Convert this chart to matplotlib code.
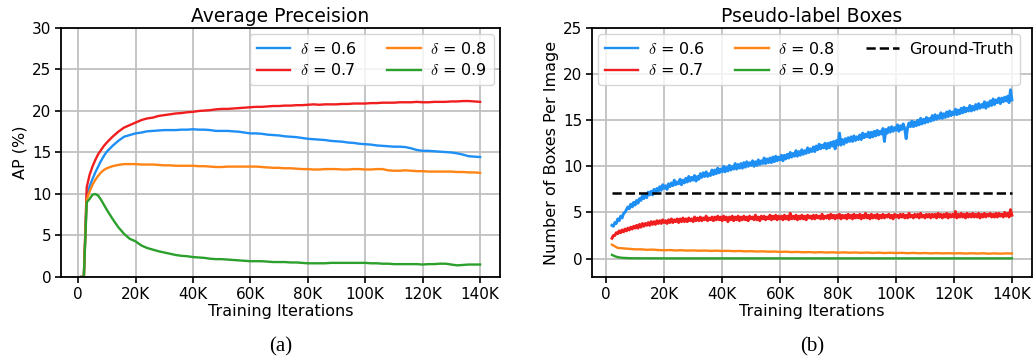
import matplotlib
matplotlib.use("Agg")
import matplotlib.pyplot as plt

plt.rcParams['font.family'] = ['DejaVu Sans']
plt.rcParams['mathtext.fontset'] = 'cm'

# ---------------- (a) Average Precision ----------------
iters_a = [1, 2, 3, 4, 5, 6, 7, 8, 9, 10, 12, 14, 16, 18, 20, 22, 24, 26, 28, 30,
           32, 34, 36, 38, 40, 42, 44, 46, 48, 50, 52, 54, 56, 58, 60, 62, 64, 66, 68, 70,
           72, 74, 76, 78, 80, 82, 84, 86, 88, 90, 92, 94, 96, 98, 100, 102, 104, 106, 108, 110,
           112, 114, 116, 118, 120, 122, 124, 126, 128, 130, 132, 134, 136, 138, 140]  # thousands

ap_06 = [0, 0, 9.7, 10.9, 11.8, 12.6, 13.3, 14.0, 14.6, 15.1, 15.8, 16.4, 16.9, 17.1, 17.3, 17.4, 17.55, 17.6, 17.65, 17.7,
         17.7, 17.7, 17.75, 17.75, 17.8, 17.75, 17.75, 17.7, 17.6, 17.6, 17.6, 17.55, 17.5, 17.4, 17.3, 17.3, 17.25, 17.15, 17.1, 17.05,
         16.95, 16.9, 16.85, 16.75, 16.65, 16.6, 16.55, 16.5, 16.4, 16.35, 16.3, 16.2, 16.15, 16.05, 16.0, 15.95, 15.85, 15.8, 15.75, 15.7,
         15.7, 15.65, 15.5, 15.3, 15.2, 15.2, 15.15, 15.1, 15.05, 15.0, 14.9, 14.75, 14.55, 14.5, 14.45]
ap_07 = [0, 0, 10.8, 12.3, 13.3, 14.1, 14.8, 15.3, 15.8, 16.2, 16.9, 17.5, 18.0, 18.3, 18.6, 18.9, 19.1, 19.2, 19.4, 19.5,
         19.6, 19.7, 19.75, 19.85, 19.9, 20.0, 20.05, 20.1, 20.2, 20.25, 20.25, 20.3, 20.35, 20.4, 20.45, 20.5, 20.5, 20.55, 20.6, 20.6,
         20.65, 20.65, 20.7, 20.7, 20.75, 20.8, 20.75, 20.8, 20.8, 20.8, 20.85, 20.85, 20.9, 20.9, 20.9, 20.95, 20.95, 21.0, 21.0, 21.0,
         21.05, 21.05, 21.05, 21.1, 21.05, 21.05, 21.1, 21.1, 21.1, 21.15, 21.15, 21.2, 21.2, 21.15, 21.1]
ap_08 = [0, 0, 9.3, 10.3, 11.1, 11.7, 12.2, 12.6, 12.9, 13.1, 13.35, 13.5, 13.6, 13.6, 13.6, 13.55, 13.55, 13.55, 13.5, 13.45,
         13.45, 13.4, 13.4, 13.4, 13.4, 13.35, 13.35, 13.3, 13.25, 13.25, 13.3, 13.3, 13.3, 13.3, 13.3, 13.3, 13.25, 13.2, 13.15, 13.15,
         13.1, 13.1, 13.05, 13.0, 13.0, 12.95, 12.95, 13.0, 13.0, 13.0, 12.95, 12.95, 13.0, 13.0, 12.95, 12.95, 13.0, 13.0, 12.85, 12.8,
         12.8, 12.85, 12.8, 12.75, 12.75, 12.7, 12.7, 12.7, 12.7, 12.7, 12.65, 12.65, 12.6, 12.6, 12.55]
ap_09 = [0, 0, 9.0, 9.4, 9.9, 10.0, 9.8, 9.3, 8.7, 8.1, 7.0, 6.0, 5.2, 4.6, 4.3, 3.8, 3.5, 3.3, 3.1, 2.95,
         2.8, 2.65, 2.55, 2.5, 2.4, 2.35, 2.3, 2.2, 2.15, 2.15, 2.1, 2.05, 2.0, 1.95, 1.9, 1.9, 1.9, 1.85, 1.8, 1.8,
         1.8, 1.75, 1.75, 1.7, 1.65, 1.65, 1.65, 1.65, 1.7, 1.7, 1.7, 1.7, 1.7, 1.7, 1.7, 1.65, 1.65, 1.6, 1.6, 1.55,
         1.55, 1.55, 1.55, 1.55, 1.5, 1.55, 1.55, 1.6, 1.6, 1.5, 1.4, 1.45, 1.5, 1.5, 1.5]

# ---------------- (b) Pseudo-label boxes ----------------
iters_b = [2 + 0.5 * i for i in range(277)]  # thousands, 2K..140K every 0.5K
box_06 = [3.6, 3.5, 3.9, 3.8, 4.3, 4.1, 4.6, 4.4, 4.9, 5.0,
          5.3, 5.6, 5.4, 5.9, 5.6, 6.1, 5.8, 6.3, 6.0, 6.5,
          6.3, 6.8, 6.5, 7.0, 6.6, 7.2, 6.9, 7.3, 6.9, 7.5,
          7.1, 7.6, 7.3, 7.8, 7.4, 8.0, 7.6, 7.9, 7.5, 8.1,
          7.8, 8.2, 7.9, 8.5, 8.0, 8.3, 8.1, 8.6, 8.0, 8.5,
          8.2, 8.7, 8.3, 8.9, 8.4, 8.8, 8.5, 9.0, 8.4, 8.9,
          8.6, 9.2, 8.8, 9.3, 8.9, 9.4, 8.9, 9.2, 9.0, 9.6,
          9.1, 9.6, 9.2, 9.8, 9.3, 9.7, 9.4, 10.0, 9.4, 9.9,
          9.5, 10.1, 9.6, 10.0, 9.7, 10.3, 9.7, 10.2, 9.8, 10.3,
          9.8, 10.4, 9.9, 10.5, 10.0, 10.4, 10.1, 10.6, 10.0, 10.5,
          10.1, 10.7, 10.2, 10.6, 10.3, 10.9, 10.3, 10.8, 10.4, 10.9,
          10.4, 11.0, 10.5, 11.1, 10.6, 11.0, 10.7, 11.2, 10.6, 11.2,
          10.8, 11.3, 10.9, 11.5, 11.0, 11.4, 11.1, 11.7, 11.1, 11.6,
          11.2, 11.8, 11.3, 11.7, 11.4, 12.0, 11.5, 11.9, 11.6, 12.1,
          11.6, 12.2, 11.8, 12.4, 11.9, 12.3, 12.0, 12.5, 11.9, 12.5,
          12.0, 12.6, 12.2, 12.7, 11.9, 12.8, 12.3, 13.6, 12.3, 12.9,
          12.4, 13.0, 12.6, 13.1, 12.7, 13.2, 12.7, 13.3, 12.8, 13.2,
          12.9, 13.4, 12.9, 13.6, 13.1, 13.5, 13.2, 13.7, 13.1, 13.7,
          13.2, 13.8, 13.3, 13.9, 13.4, 13.8, 13.5, 14.1, 12.7, 14.0,
          13.6, 14.2, 13.7, 14.3, 13.8, 14.2, 13.9, 14.5, 13.8, 14.4,
          14.0, 14.6, 14.1, 13.0, 14.2, 14.7, 14.3, 14.9, 14.3, 14.8,
          14.4, 15.0, 14.5, 15.2, 14.6, 15.1, 14.7, 15.3, 14.8, 15.2,
          14.9, 15.5, 15.0, 15.6, 15.1, 15.5, 15.2, 15.8, 15.2, 15.7,
          15.3, 15.9, 15.4, 16.0, 15.5, 15.9, 15.6, 16.2, 15.6, 16.1,
          15.7, 16.3, 15.8, 16.4, 15.9, 16.3, 16.0, 16.6, 16.0, 16.5,
          16.1, 16.7, 16.2, 16.8, 16.3, 16.7, 16.4, 17.0, 16.3, 16.9,
          16.5, 17.1, 16.6, 17.3, 16.7, 17.2, 16.9, 17.4, 16.8, 17.4,
          17.0, 17.5, 17.1, 17.6, 16.9, 18.3, 17.2]
box_07 = [2.2, 2.5, 2.5, 2.8, 2.7, 3.0, 2.8, 3.1, 2.9, 3.2,
          3.0, 3.3, 3.1, 3.4, 3.2, 3.5, 3.3, 3.6, 3.3, 3.7,
          3.4, 3.8, 3.5, 3.8, 3.6, 3.9, 3.6, 4.0, 3.7, 4.0,
          3.7, 4.1, 3.8, 4.1, 3.8, 4.2, 3.9, 4.1, 3.8, 4.2,
          3.9, 4.3, 3.9, 4.2, 4.0, 4.3, 3.9, 4.3, 4.0, 4.4,
          4.0, 4.3, 4.0, 4.4, 4.1, 4.3, 4.0, 4.5, 4.1, 4.4,
          4.1, 4.5, 4.1, 4.4, 4.2, 4.6, 4.1, 4.4, 4.2, 4.5,
          4.1, 4.5, 4.2, 4.6, 4.2, 4.5, 4.1, 4.6, 4.2, 4.5,
          4.0, 4.5, 4.2, 4.6, 4.1, 4.5, 4.2, 4.6, 4.1, 4.5,
          4.2, 4.6, 4.2, 4.5, 4.1, 4.6, 4.3, 4.5, 4.2, 4.7,
          4.2, 4.5, 4.1, 4.6, 4.3, 4.6, 4.2, 4.5, 4.3, 4.7,
          4.2, 4.6, 4.3, 4.7, 4.2, 4.6, 4.3, 4.6, 4.2, 4.7,
          4.3, 4.6, 4.2, 4.9, 4.3, 4.6, 4.3, 4.7, 4.2, 4.6,
          4.3, 4.7, 4.3, 4.6, 4.2, 4.7, 4.4, 4.6, 4.3, 4.7,
          4.3, 4.7, 4.4, 4.6, 4.3, 4.8, 4.3, 4.6, 4.4, 4.7,
          4.3, 4.8, 4.4, 4.7, 4.3, 4.7, 4.4, 4.8, 4.3, 4.7,
          4.4, 4.7, 4.3, 4.8, 4.4, 4.7, 4.3, 4.8, 4.4, 4.7,
          4.4, 4.8, 4.3, 4.7, 4.4, 4.9, 4.4, 4.7, 4.3, 4.8,
          4.4, 4.7, 4.4, 4.8, 4.3, 4.7, 4.4, 4.8, 4.4, 4.7,
          4.5, 4.8, 4.4, 4.7, 4.3, 4.8, 4.5, 4.7, 4.4, 4.8,
          4.5, 4.8, 4.4, 4.7, 4.4, 4.9, 4.5, 4.7, 4.4, 4.8,
          4.5, 4.8, 4.4, 4.9, 4.5, 4.7, 4.4, 4.8, 4.5, 4.8,
          4.4, 4.8, 4.5, 4.8, 4.4, 4.9, 4.5, 4.8, 4.4, 4.8,
          4.5, 4.9, 4.4, 4.8, 4.5, 4.8, 4.5, 5.1, 4.4, 4.8,
          4.5, 4.9, 4.5, 4.8, 4.4, 4.9, 4.5, 4.8, 4.5, 4.9,
          4.5, 4.8, 4.5, 4.9, 4.4, 4.8, 4.5, 4.9, 4.5, 4.8,
          4.6, 4.9, 4.5, 4.8, 4.5, 4.9, 4.5, 4.9, 4.6, 4.8,
          4.5, 5.0, 4.6, 4.9, 4.5, 5.3, 4.7]

iters_b08 = [2, 4, 6, 8, 10, 12, 14, 16, 18, 20, 22, 24, 26, 28, 30, 32, 34, 36, 38, 40,
             42, 44, 46, 48, 50, 52, 54, 56, 58, 60, 62, 64, 66, 68, 70, 72, 74, 76, 78, 80,
             82, 84, 86, 88, 90, 92, 94, 96, 98, 100, 102, 104, 106, 108, 110, 112, 114, 116, 118, 120,
             122, 124, 126, 128, 130, 132, 134, 136, 138, 140]
box_08 = [1.5, 1.15, 1.1, 1.05, 1.0, 1.0, 0.95, 0.97, 0.92, 0.9, 0.92, 0.88, 0.9, 0.86, 0.88, 0.85, 0.87, 0.83, 0.85, 0.82,
          0.84, 0.8, 0.82, 0.78, 0.8, 0.76, 0.78, 0.74, 0.76, 0.72, 0.74, 0.7, 0.72, 0.68, 0.7, 0.66, 0.69, 0.65, 0.68, 0.64,
          0.67, 0.63, 0.66, 0.62, 0.65, 0.61, 0.64, 0.6, 0.63, 0.6, 0.62, 0.58, 0.61, 0.57, 0.6, 0.56, 0.59, 0.56, 0.58, 0.55,
          0.58, 0.54, 0.57, 0.54, 0.57, 0.53, 0.56, 0.53, 0.56, 0.55]

iters_b09 = [2, 3, 4, 5, 6, 8, 10, 20, 40, 60, 80, 100, 120, 140]
box_09 = [0.4, 0.25, 0.15, 0.1, 0.07, 0.04, 0.03, 0.02, 0.02, 0.02, 0.02, 0.02, 0.02, 0.02]

gt_iters = [2, 140]
gt_boxes = [7.07, 7.07]

labels = [r'$\delta$ = 0.6', r'$\delta$ = 0.7', r'$\delta$ = 0.8', r'$\delta$ = 0.9']
colors = ['#1e8ff5', '#f01e1e', '#ff8415', '#2ca02c']
xticks = [0, 20, 40, 60, 80, 100, 120, 140]
xticklabels = ['0', '20K', '40K', '60K', '80K', '100K', '120K', '140K']

def k(v):
    return [x * 1000 for x in v]

fig = plt.figure(figsize=(10.34, 3.58), dpi=100)
ax1 = fig.add_axes([0.059, 0.2263, 0.4246, 0.6955])
ax2 = fig.add_axes([0.5725, 0.2263, 0.4255, 0.6955])

for ax in (ax1, ax2):
    ax.grid(True, color='#c0c0c0', linewidth=1.3)
    ax.set_axisbelow(True)
    ax.set_xticks(k(xticks))
    ax.set_xticklabels(xticklabels)
    ax.tick_params(labelsize=11, width=1.2, length=4, pad=3)
    for s in ax.spines.values():
        s.set_linewidth(1.3)
    ax.set_xlabel('Training Iterations', fontsize=11.5, labelpad=2)

leg_kw = dict(fontsize=11.5, columnspacing=1.9, borderaxespad=0.4,
              handlelength=2.1, handletextpad=0.6, labelspacing=0.35)

lw = 1.7
for ys, lab, c in zip([ap_06, ap_07, ap_08, ap_09], labels, colors):
    ax1.plot(k(iters_a), ys, color=c, lw=lw, label=lab)
ax1.set_ylim(0, 30)
ax1.set_yticks([0, 5, 10, 15, 20, 25, 30])
ax1.set_ylabel('AP (%)', fontsize=11.5, labelpad=3)
ax1.set_title('Average Preceision', fontsize=13.5, pad=4)
ax1.legend(loc='upper right', ncol=2, **leg_kw)

ax2.plot(k(iters_b), box_06, color=colors[0], lw=2.1, label=labels[0])
ax2.plot(k(iters_b), box_07, color=colors[1], lw=2.1, label=labels[1])
ax2.plot(k(iters_b08), box_08, color=colors[2], lw=lw, label=labels[2])
ax2.plot(k(iters_b09), box_09, color=colors[3], lw=lw, label=labels[3])
ax2.plot(k(gt_iters), gt_boxes, color='black', lw=1.8, ls='--', label='Ground-Truth')
ax2.set_ylim(-2, 25)
ax2.set_yticks([0, 5, 10, 15, 20, 25])
ax2.set_ylabel('Number of Boxes Per Image', fontsize=11.5, labelpad=3)
ax2.set_title('Pseudo-label Boxes', fontsize=13.5, pad=4)
leg2 = ax2.legend(loc='upper left', ncol=3, **leg_kw)
for h in leg2.legend_handles[:4]:
    h.set_linewidth(lw)

fig.text(0.2713, 0.004, '(a)', ha='center', va='bottom', fontsize=15, family='Liberation Serif')
fig.text(0.785, 0.004, '(b)', ha='center', va='bottom', fontsize=15, family='Liberation Serif')

fig.savefig('out.png', dpi=100)
